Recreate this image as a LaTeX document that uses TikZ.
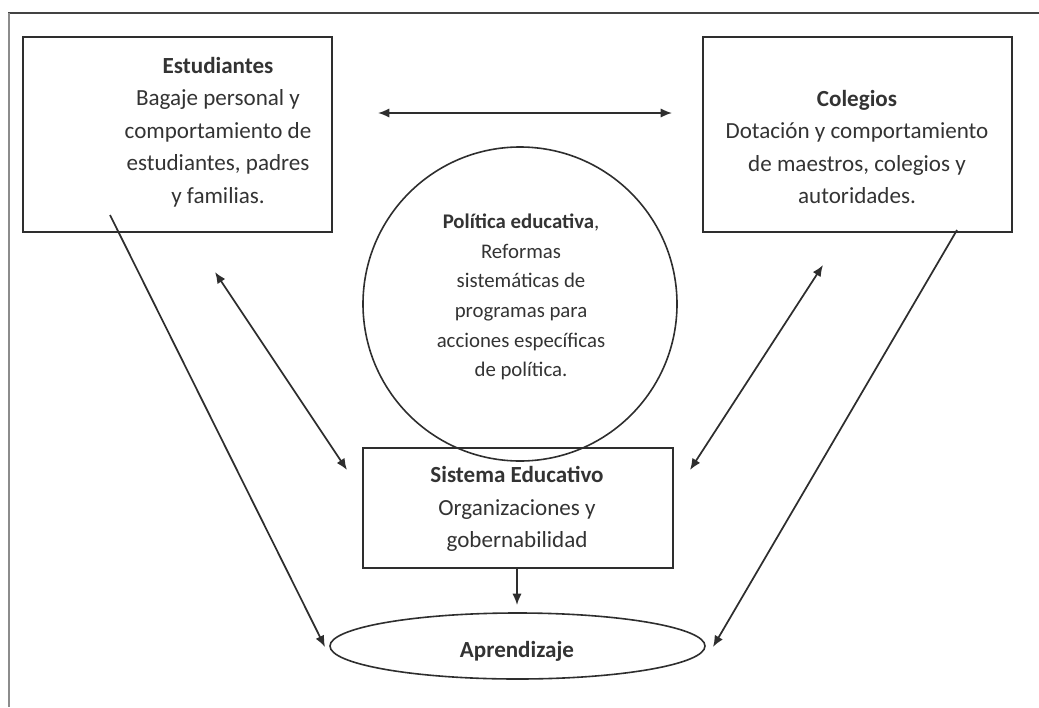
\documentclass[tikz,border=0pt]{standalone}
\usepackage{fontspec}
\setmainfont{Carlito}
\usetikzlibrary{shapes.geometric,arrows.meta}
\definecolor{ink}{HTML}{2E2E2E}
\definecolor{txt}{HTML}{333333}
\tikzset{
  boxshape/.style={draw=ink, line width=1.3pt, rectangle, inner sep=0pt},
  bodytext/.style={text=txt, align=center, inner sep=0pt, font=\fontsize{17.3}{24.4}\selectfont},
  circtext/.style={text=txt, align=center, inner sep=0pt, font=\fontsize{15.6}{22.2}\selectfont},
  conn/.style={draw=ink, line width=1.3pt, -{Latex[length=8.5pt,width=7pt]}},
  bconn/.style={draw=ink, line width=1.3pt, {Latex[length=8.5pt,width=7pt]}-{Latex[length=8.5pt,width=7pt]}},
}
\begin{document}
\begin{tikzpicture}[x=0.75pt,y=-0.75pt]
\useasboundingbox (0,0) rectangle (1039,707);
% outer frame (partial)
\draw[draw=ink!90, line width=1.2pt] (8,13) -- (1039,13);
\draw[draw=black!45, line width=1.6pt] (9,13) -- (9,707);

% boxes
\node[boxshape, minimum width=231.75pt, minimum height=146.25pt] (est) at (177.5,134.5) {};
\node[bodytext] (estT) at (218,132) {\textbf{Estudiantes}\\Bagaje personal y\\comportamiento de\\estudiantes, padres\\y familias.};

\node[boxshape, minimum width=231.75pt, minimum height=146.25pt] (col) at (857.5,134.5) {};
\node[bodytext] (colT) at (857,147) {\textbf{Colegios}\\Dotación y comportamiento\\de maestros, colegios y\\autoridades.};

\node[draw=ink, line width=1.2pt, circle, minimum size=235.5pt, inner sep=0pt] (pol) at (520,304) {};
\node[circtext] (polT) at (521,297) {\textbf{Política educativa},\\Reformas\\sistemáticas de\\programas para\\acciones específicas\\de política.};

\node[boxshape, minimum width=232.5pt, minimum height=90pt] (sis) at (518,508) {};
\node[bodytext] (sisT) at (517,509) {\textbf{Sistema Educativo}\\Organizaciones y\\gobernabilidad};

\node[draw=ink, line width=1.2pt, ellipse, minimum width=281.25pt, minimum height=49.5pt, inner sep=0pt] (apr) at (517.5,646) {};
\node[bodytext] (aprT) at (517,651) {\textbf{Aprendizaje}};

% connector end points
\coordinate (h1) at (378,113);
\coordinate (h2) at (672,113);
\coordinate (l1) at (110,215);
\coordinate (l2) at (325,647);
\coordinate (ld1) at (215,272);
\coordinate (ld2) at (347,470);
\coordinate (rd1) at (823,265);
\coordinate (rd2) at (690,470);
\coordinate (r1) at (957,230);
\coordinate (r2) at (713,647);
\coordinate (d2) at (517,605);

\draw[bconn] (h1) -- (h2);
\draw[conn] (l1) -- (l2);
\draw[bconn] (ld1) -- (ld2);
\draw[bconn] (rd1) -- (rd2);
\draw[conn] (r1) -- (r2);
\draw[conn] (sis.south -| d2) -- (d2);
\end{tikzpicture}
\end{document}
